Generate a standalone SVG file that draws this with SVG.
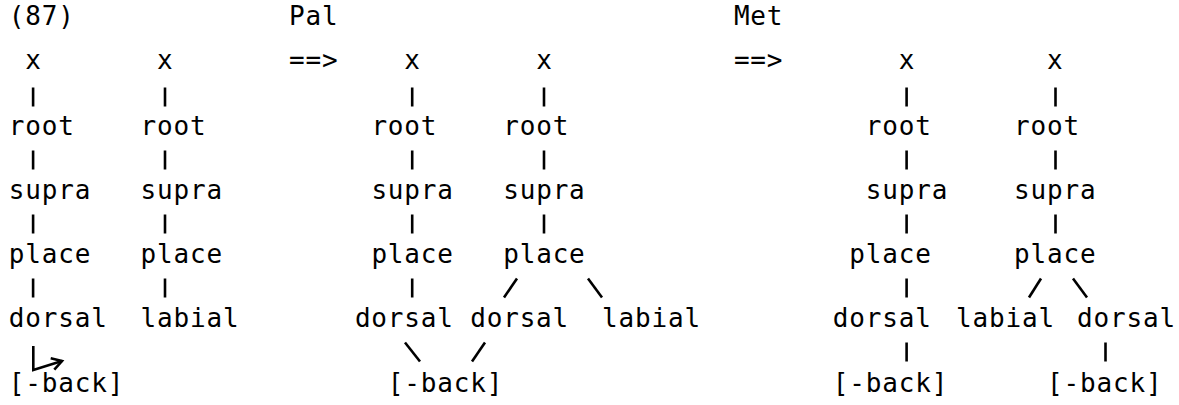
<svg xmlns="http://www.w3.org/2000/svg" width="1179" height="405" viewBox="0 0 1179 405">
<style>
text{font-family:"DejaVu Sans Mono","Liberation Mono",monospace;font-size:26px;letter-spacing:0.83px;fill:#000}
.c line,.c path{stroke:#000;stroke-width:2.6;fill:none;stroke-linecap:butt}
</style>
<rect width="1179" height="405" fill="#fff"/>
<g id="labels">
<g id="ex-num"><text x="8.8" y="25">(87)</text></g>
<g id="pal-label"><text x="289" y="25">Pal</text><text x="289" y="68.5">==&gt;</text></g>
<g id="met-label"><text x="733.9" y="25">Met</text><text x="733.9" y="68.5">==&gt;</text></g>
</g>
<!-- left trees -->
<g id="t1-x"><text x="25.3" y="68.5">x</text></g>
<g id="t1-root"><text x="8.8" y="135">root</text></g>
<g id="t1-supra"><text x="8.8" y="199">supra</text></g>
<g id="t1-place"><text x="8.8" y="263.2">place</text></g>
<g id="t1-dorsal"><text x="8.8" y="327.4">dorsal</text></g>
<g id="t1-back"><text x="8.8" y="391.6">[-back]</text></g>
<g id="t2-x"><text x="157.1" y="68.5">x</text></g>
<g id="t2-root"><text x="140.6" y="135">root</text></g>
<g id="t2-supra"><text x="140.6" y="199">supra</text></g>
<g id="t2-place"><text x="140.6" y="263.2">place</text></g>
<g id="t2-labial"><text x="140.6" y="327.4">labial</text></g>
<!-- Pal trees -->
<g id="p1-x"><text x="404.3" y="68.5">x</text></g>
<g id="p1-root"><text x="371.4" y="135">root</text></g>
<g id="p1-supra"><text x="371.4" y="199">supra</text></g>
<g id="p1-place"><text x="371.4" y="263.2">place</text></g>
<g id="p1-dorsal"><text x="354.9" y="327.4">dorsal</text></g>
<g id="p2-x"><text x="536.2" y="68.5">x</text></g>
<g id="p2-root"><text x="503.2" y="135">root</text></g>
<g id="p2-supra"><text x="503.2" y="199">supra</text></g>
<g id="p2-place"><text x="503.2" y="263.2">place</text></g>
<g id="p2-dorsal"><text x="470.2" y="327.4">dorsal</text></g>
<g id="p2-labial"><text x="602.1" y="327.4">labial</text></g>
<g id="p-back"><text x="387.8" y="391.6">[-back]</text></g>
<!-- Met trees -->
<g id="m1-x"><text x="898.7" y="68.5">x</text></g>
<g id="m1-root"><text x="865.8" y="135">root</text></g>
<g id="m1-supra"><text x="865.8" y="199">supra</text></g>
<g id="m1-place"><text x="849.3" y="263.2">place</text></g>
<g id="m1-dorsal"><text x="832.8" y="327.4">dorsal</text></g>
<g id="m1-back"><text x="832.8" y="391.6">[-back]</text></g>
<g id="m2-x"><text x="1047" y="68.5">x</text></g>
<g id="m2-root"><text x="1014.1" y="135">root</text></g>
<g id="m2-supra"><text x="1014.1" y="199">supra</text></g>
<g id="m2-place"><text x="1014.1" y="263.2">place</text></g>
<g id="m2-labial"><text x="956" y="327.4">labial</text></g>
<g id="m2-dorsal"><text x="1077" y="327.4">dorsal</text></g>
<g id="m2-back"><text x="1047" y="391.6">[-back]</text></g>
<g id="connectors" class="c">
<!-- left tree 1 -->
<line x1="33.1" y1="87.5" x2="33.1" y2="106.5"/>
<line x1="33.1" y1="150.5" x2="33.1" y2="169.5"/>
<line x1="33.1" y1="214.5" x2="33.1" y2="233.5"/>
<line x1="33.1" y1="278.5" x2="33.1" y2="297.5"/>
<path d="M33.3,346 V370 L62,361"/>
<path d="M50.7,358.3 L62,361 L54.3,369.7"/>
<!-- left tree 2 -->
<line x1="165" y1="87.5" x2="165" y2="106.5"/>
<line x1="165" y1="150.5" x2="165" y2="169.5"/>
<line x1="165" y1="214.5" x2="165" y2="233.5"/>
<line x1="165" y1="278.5" x2="165" y2="297.5"/>
<!-- Pal tree 1 -->
<line x1="412.2" y1="87.5" x2="412.2" y2="106.5"/>
<line x1="412.2" y1="150.5" x2="412.2" y2="169.5"/>
<line x1="412.2" y1="214.5" x2="412.2" y2="233.5"/>
<line x1="412.2" y1="278.5" x2="412.2" y2="297.5"/>
<!-- Pal tree 2 -->
<line x1="544" y1="87.5" x2="544" y2="106.5"/>
<line x1="544" y1="150.5" x2="544" y2="169.5"/>
<line x1="544" y1="214.5" x2="544" y2="233.5"/>
<line x1="517" y1="278.5" x2="504" y2="297.5"/>
<line x1="588" y1="278.5" x2="602" y2="297.5"/>
<!-- Pal to [-back] -->
<line x1="405" y1="342.5" x2="420" y2="361.5"/>
<line x1="485" y1="342.5" x2="472" y2="361.5"/>
<!-- Met tree 1 -->
<line x1="906.6" y1="87.5" x2="906.6" y2="106.5"/>
<line x1="906.6" y1="150.5" x2="906.6" y2="169.5"/>
<line x1="906.6" y1="214.5" x2="906.6" y2="233.5"/>
<line x1="906.6" y1="278.5" x2="906.6" y2="297.5"/>
<line x1="906.6" y1="342.5" x2="906.6" y2="361.5"/>
<!-- Met tree 2 -->
<line x1="1055.5" y1="87.5" x2="1055.5" y2="106.5"/>
<line x1="1055.5" y1="150.5" x2="1055.5" y2="169.5"/>
<line x1="1055.5" y1="214.5" x2="1055.5" y2="233.5"/>
<line x1="1041" y1="278.5" x2="1029" y2="297.5"/>
<line x1="1073" y1="278.5" x2="1087" y2="297.5"/>
<line x1="1105.5" y1="342.5" x2="1105.5" y2="361.5"/>
</g>
</svg>
